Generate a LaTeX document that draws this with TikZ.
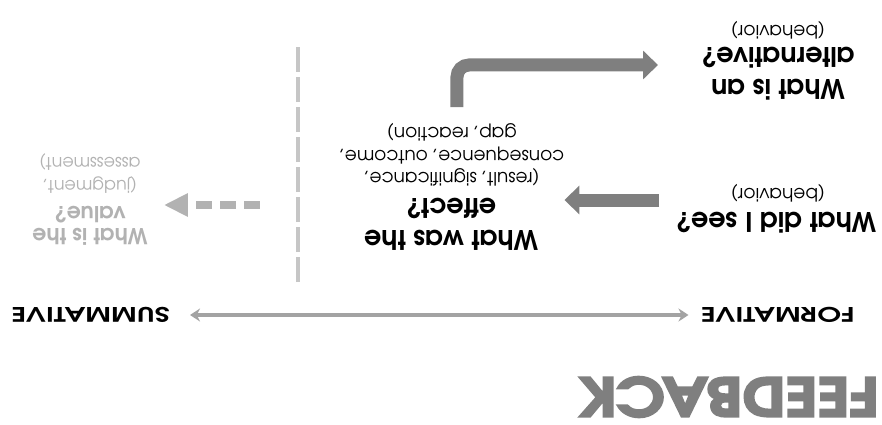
\documentclass[tikz,border=0pt]{standalone}
\usepackage{fontspec}
\setmainfont{texgyreadventor}[Extension=.otf, UprightFont=*-regular, BoldFont=*-bold, ItalicFont=*-italic, BoldItalicFont=*-bolditalic]
\newfontfamily\titlefont{texgyreadventor}[Extension=.otf, UprightFont=*-bold, FakeBold=4]
\usetikzlibrary{arrows.meta}

\definecolor{fbgray}{HTML}{7F7F7F}
\definecolor{axisgray}{HTML}{A3A3A3}
\definecolor{lightgray}{HTML}{B2B2B2}
\definecolor{divgray}{HTML}{C6C6C6}

\tikzset{
  head/.style={font=\bfseries\fontsize{27}{32}\selectfont, align=center, inner sep=0pt},
  note/.style={font=\fontsize{18.5}{22.5}\selectfont, align=center, inner sep=0pt},
  pole/.style={inner sep=0pt, xscale=1.42, font=\bfseries\fontsize{20}{20}\selectfont},
  fat/.style={draw=fbgray, line width=13pt, -{Triangle[length=15pt, width=28pt]}},
}

\begin{document}
\begin{tikzpicture}[x=1pt, y=-1pt, rotate=180, transform shape]
  \useasboundingbox (0,0) rectangle (882,424);

  % title and axis
  \node[anchor=west, inner sep=0pt, xscale=1.16, text=fbgray, font=\titlefont\fontsize{53}{53}\selectfont] (feedback) at (3,27) {FEEDBACK};
  \node[pole, anchor=west] (formative) at (27,109) {FORMATIVE};
  \node[pole, anchor=east] (summative) at (871,109) {SUMMATIVE};
  \draw[axisgray, line width=4pt, {Stealth[length=10pt, width=13pt]}-{Stealth[length=10pt, width=13pt]}, shorten <=12pt, shorten >=20pt] (formative) -- (summative);

  % divider
  \draw[divgray, line width=4pt, dash pattern=on 25pt off 5pt] (584,142) -- (584,381);

  % questions
  \node[head] (seeq) at (106,201) {What did I see?};
  \node[note] (seeqnote) at (104,231) {(behavior)};

  \node[head] (effect) at (431,200) {What was the\\effect?};
  \node[note] (effectnote) at (430,269) {(result, significance,\\consequence, outcome,\\gap, reaction)};

  \node[head] (alt) at (104,350) {What is an\\alternative?};
  \node[note] (altnote) at (104,394) {(behavior)};

  \node[head, text=lightgray, font=\bfseries\fontsize{22}{22}\selectfont] (value) at (792,198) {What is the\\value?};
  \node[note, text=lightgray, font=\fontsize{17.5}{23}\selectfont] (valuenote) at (792,251) {(judgment,\\assessment)};

  % arrows
  \coordinate (seeqout) at (223,224);
  \coordinate (effectout) at (425,317);
  \coordinate (altin) at (224,359);
  \coordinate (valueout) at (622,219);

  \draw[fat] (seeqout) -- (seeqout -| effectnote.west);
  \draw[fat, rounded corners=12pt] (effectout) |- (altin);
  \draw[lightgray, line width=8pt, dash pattern=on 16pt off 8pt, -{Triangle[length=24pt, width=22pt]}, shorten >=16pt] (valueout) -- (valueout -| value.west);
\end{tikzpicture}
\end{document}
